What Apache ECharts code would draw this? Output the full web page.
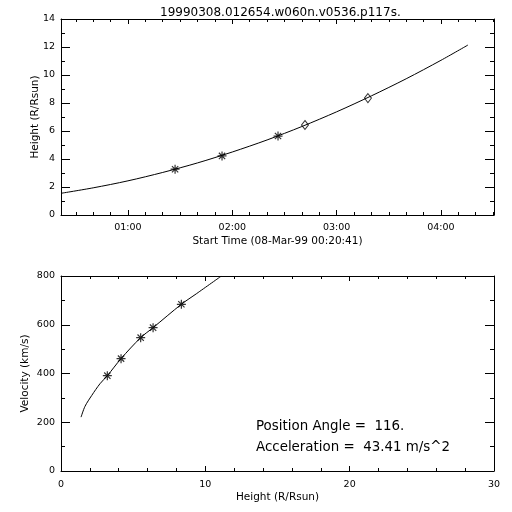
<!DOCTYPE html>
<html><head><meta charset="utf-8">
<script src="https://cdn.jsdelivr.net/npm/echarts@6/dist/echarts.min.js"></script>
<style>html,body{margin:0;padding:0;background:#fff}#c{width:512px;height:512px}</style>
</head><body><div id="c"></div>
<script>
const titleText = '19990308.012654.w060n.v0536.p117s.';
const timeAxisName = 'Start Time (08-Mar-99 00:20:41)';
const heightName = 'Height (R/Rsun)';
const velocityName = 'Velocity (km/s)';
const noteLines = ['Position Angle =  116.', 'Acceleration =  43.41 m/s^2'];

// top panel: time (minutes after 00:00) vs height
const timeMin = 21.5, timeMax = 270.5;
const majorTimeTicks = [60, 120, 180, 240];
const minorTimeTicks = [30,40,50,70,80,90,100,110,130,140,150,160,170,190,200,210,220,230,250,260,270];
const curveTimes   = [21.5, 40, 60, 80, 100, 120, 140, 160, 180, 200, 220, 240, 255.5];
const curveHeights = [1.55, 1.94, 2.44, 3.04, 3.72, 4.50, 5.36, 6.32, 7.37, 8.51, 9.73, 11.05, 12.14];
const starTimes   = [87.1, 114.1, 146.3];
const starHeights = [3.27, 4.22, 5.64];
const diamondTimes   = [161.8, 198.0];
const diamondHeights = [6.43, 8.35];

// bottom panel: height vs velocity
const velCurveHeights = [1.39, 1.66, 2.13, 2.70, 3.21, 4.16, 5.52, 6.38, 8.34, 9.40, 11.09];
const velCurveValues  = [221, 265, 310, 358, 391, 461, 547, 588, 684, 728, 799];
const velStarHeights = [3.21, 4.16, 5.52, 6.38, 8.34];
const velStarValues  = [391, 461, 547, 588, 684];

const FONT = 'DejaVu Sans';
const BLACK = '#000';
const star = 'path://M0,5L10,5M5,0L5,10M1.5,1.5L8.5,8.5M8.5,1.5L1.5,8.5';
const fmtTime = v => { const h = Math.floor(v/60), m = Math.round(v%60); return String(h).padStart(2,'0')+':'+String(m).padStart(2,'0'); };
const line = {show:true, onZero:false, lineStyle:{color:BLACK, width:1}};
const noLine = {show:false, onZero:false};
const lab = {color:BLACK, fontFamily:FONT, fontSize:9.5};
const nameStyle = {color:BLACK, fontFamily:FONT, fontSize:10.5};
const tickMajX = {inside:true, length:5, lineStyle:{color:BLACK}};
const tickMajY = {inside:true, length:9, lineStyle:{color:BLACK}};

const chart = echarts.init(document.getElementById('c'), null, {renderer:'canvas'});
const zip = (a,b) => a.map((v,i)=>[v,b[i]]);

chart.setOption({
  animation:false,
  backgroundColor:'#fff',
  title:{text:titleText, left:155, top:2, textStyle:{fontFamily:FONT, fontSize:12, fontWeight:'normal', color:BLACK}},
  grid:[
    {left:61, right:18, top:19, height:196},
    {left:61, right:18, top:276, height:195}
  ],
  xAxis:[
    {gridIndex:0, type:'value', min:timeMin, max:timeMax, position:'bottom', axisLine:line,
     axisTick:{...tickMajX, customValues:majorTimeTicks},
     axisLabel:{...lab, customValues:majorTimeTicks, formatter:fmtTime, margin:8},
     splitLine:{show:false}, name:timeAxisName, nameLocation:'middle', nameGap:21, nameMoveOverlap:false, nameTextStyle:nameStyle},
    {gridIndex:0, type:'value', min:timeMin, max:timeMax, position:'bottom', axisLine:noLine,
     axisTick:{customValues:minorTimeTicks, inside:true, length:3, lineStyle:{color:BLACK}},
     axisLabel:{show:false}, splitLine:{show:false}},
    {gridIndex:0, type:'value', min:timeMin, max:timeMax, position:'top', axisLine:line,
     axisTick:{...tickMajX, customValues:majorTimeTicks},
     axisLabel:{show:false}, splitLine:{show:false}},
    {gridIndex:0, type:'value', min:timeMin, max:timeMax, position:'top', axisLine:noLine,
     axisTick:{customValues:minorTimeTicks, inside:true, length:3, lineStyle:{color:BLACK}},
     axisLabel:{show:false}, splitLine:{show:false}},
    {gridIndex:1, type:'value', min:0, max:30, interval:10, position:'bottom', axisLine:line,
     axisTick:tickMajX,
     minorTick:{show:true, splitNumber:5, length:3, lineStyle:{color:BLACK}},
     axisLabel:{...lab, margin:9}, splitLine:{show:false},
     name:heightName, nameLocation:'middle', nameGap:21, nameMoveOverlap:false, nameTextStyle:nameStyle},
    {gridIndex:1, type:'value', min:0, max:30, interval:10, position:'top', axisLine:line,
     axisTick:tickMajX,
     minorTick:{show:true, splitNumber:5, length:3, lineStyle:{color:BLACK}},
     axisLabel:{show:false}, splitLine:{show:false}}
  ],
  yAxis:[
    {gridIndex:0, type:'value', min:0, max:14, interval:2, position:'left', axisLine:line,
     axisTick:tickMajY,
     minorTick:{show:true, splitNumber:2, length:4, lineStyle:{color:BLACK}},
     axisLabel:{...lab, margin:6}, splitLine:{show:false},
     name:heightName, nameLocation:'middle', nameGap:20, nameMoveOverlap:false, nameTextStyle:nameStyle},
    {gridIndex:0, type:'value', min:0, max:14, interval:2, position:'right', axisLine:line,
     axisTick:tickMajY,
     minorTick:{show:true, splitNumber:2, length:4, lineStyle:{color:BLACK}},
     axisLabel:{show:false}, splitLine:{show:false}},
    {gridIndex:1, type:'value', min:0, max:800, interval:200, position:'left', axisLine:line,
     axisTick:tickMajY,
     minorTick:{show:true, splitNumber:2, length:4, lineStyle:{color:BLACK}},
     axisLabel:{...lab, margin:6}, splitLine:{show:false},
     name:velocityName, nameLocation:'middle', nameGap:30, nameMoveOverlap:false, nameTextStyle:nameStyle},
    {gridIndex:1, type:'value', min:0, max:800, interval:200, position:'right', axisLine:line,
     axisTick:tickMajY,
     minorTick:{show:true, splitNumber:2, length:4, lineStyle:{color:BLACK}},
     axisLabel:{show:false}, splitLine:{show:false}}
  ],
  series:[
    {type:'line', xAxisIndex:0, yAxisIndex:0, data:zip(curveTimes, curveHeights), showSymbol:false, smooth:0.3,
     lineStyle:{color:BLACK, width:1}, silent:true},
    {type:'scatter', xAxisIndex:0, yAxisIndex:0, data:zip(starTimes, starHeights), symbol:star, symbolSize:9,
     itemStyle:{color:'none', borderColor:BLACK, borderWidth:1.2}},
    {type:'scatter', xAxisIndex:0, yAxisIndex:0, data:zip(diamondTimes, diamondHeights), symbol:'diamond', symbolSize:[7,9],
     itemStyle:{color:'#fff', borderColor:BLACK, borderWidth:1}},
    {type:'line', xAxisIndex:4, yAxisIndex:2, data:zip(velCurveHeights, velCurveValues), showSymbol:false, smooth:0.3,
     lineStyle:{color:BLACK, width:1}, silent:true},
    {type:'scatter', xAxisIndex:4, yAxisIndex:2, data:zip(velStarHeights, velStarValues), symbol:star, symbolSize:9,
     itemStyle:{color:'none', borderColor:BLACK, borderWidth:1.2}}
  ],
  graphic:[
    {type:'text', left:256, top:420, style:{text:noteLines[0], fill:BLACK, font:'13.4px "DejaVu Sans"'}},
    {type:'text', left:256, top:441, style:{text:noteLines[1], fill:BLACK, font:'13.4px "DejaVu Sans"'}}
  ]
});
</script></body></html>
